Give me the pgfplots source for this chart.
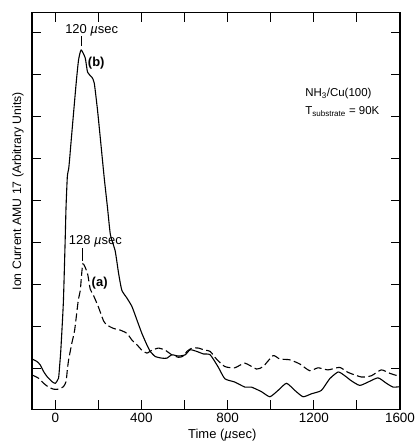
\documentclass[border=0pt]{standalone}
\usepackage{pgfplots}
\pgfplotsset{compat=1.18}
\usepackage{fontspec}
\setmainfont{Liberation Sans}

% time-of-flight traces of AMU 17 (NH3) desorbing from Cu(100)
\pgfplotstableread{
t     s
-108  1.22
-85   1.16
-70   1.08
-54   0.92
-38   0.80
-15   0.68
0     0.64
15    0.76
20    1.04
25    1.37
31    1.91
38    2.63
46    4.06
50    4.85
56    5.57
62    5.75
66    5.95
74    6.44
97    7.80
108   8.35
120   8.59
139   8.40
150   8.06
170   7.94
181   7.80
196   7.16
210   6.44
228   5.50
242   4.85
256   4.18
278   3.80
294   3.26
309   2.86
333   2.67
356   2.47
379   2.15
402   1.83
425   1.56
441   1.40
464   1.28
495   1.24
518   1.24
541   1.32
572   1.29
603   1.32
626   1.44
657   1.40
688   1.34
719   1.32
756   1.03
787   0.75
833   0.67
880   0.55
910   0.55
957   0.44
996   0.32
1034  0.47
1073  0.64
1112  0.47
1150  0.32
1189  0.39
1235  0.47
1274  0.75
1313  0.91
1344  0.82
1374  0.70
1413  0.59
1452  0.67
1498  0.77
1537  0.64
1568  0.55
1600  0.56
}\traceb

\pgfplotstableread{
t     s
-108  0.84
-77   0.76
-54   0.64
-31   0.55
-8    0.50
15    0.50
38    0.56
50    0.68
56    0.96
62    1.20
77    1.60
90    1.91
107   2.63
116   2.85
128   3.49
150   3.25
162   2.89
178   2.73
201   2.45
224   2.13
240   2.03
270   1.95
301   1.91
333   1.83
356   1.67
379   1.56
402   1.43
425   1.36
449   1.43
479   1.48
510   1.43
541   1.32
572   1.26
595   1.29
611   1.40
634   1.48
665   1.48
688   1.44
719   1.40
748   1.22
787   1.04
833   1.01
880   1.12
934   0.98
965   1.04
1011  1.30
1042  1.22
1089  1.20
1135  1.10
1181  0.94
1220  1.01
1266  0.96
1320  1.02
1359  0.90
1421  0.79
1467  0.82
1513  0.96
1552  0.88
1600  0.80
}\tracea

\begin{document}
\begin{tikzpicture}
\begin{axis}[
  scale only axis,
  width=368bp, height=396.6bp,
  xmin=-108, xmax=1600,
  ymin=0.02, ymax=9.48,
  xtick={0,200,...,1600},
  xticklabels={0,,400,,800,,1200,,1600},
  ytick={1,2,...,9},
  yticklabels={},
  tick align=inside,
  major tick length=9bp,
  every tick/.style={black, line width=1bp},
  axis line style={line width=1.2bp},
  /pgf/number format/assume math mode=true,
  tick label style={font=\fontsize{13.5}{16}\selectfont},
  xlabel={Time ({\itshape µ}sec)},
  xlabel style={font=\fontsize{13}{16}\selectfont, at={(axis description cs:0.517,0)}, anchor=center, yshift=-25.7bp},
  ylabel={Ion Current AMU 17 (Arbitrary Units)},
  ylabel style={font=\fontsize{12.3}{15}\selectfont, at={(axis description cs:-0.038,0.55)}, anchor=center},
]
\addplot[black, line width=1.1bp, smooth, tension=0.35] table[x=t, y=s] {\traceb};
\addplot[black, line width=1.1bp, smooth, tension=0.35, dash pattern=on 8bp off 3.5bp] table[x=t, y=s] {\tracea};

% peak annotations
\draw[black, line width=0.8bp] (axis cs:120,8.68) -- (axis cs:120,8.92);
\node[font=\fontsize{13}{15}\selectfont] at (axis cs:169,9.06) {120 {\itshape µ}sec};
\node[font=\fontsize{13}{15}\selectfont\bfseries] at (axis cs:190,8.28) {(b)};
\draw[black, line width=0.8bp] (axis cs:128,3.56) -- (axis cs:128,3.86);
\node[font=\fontsize{13}{15}\selectfont] at (axis cs:186,4.03) {128 {\itshape µ}sec};
\node[font=\fontsize{13}{15}\selectfont\bfseries] at (axis cs:206,3.03) {(a)};

\node[anchor=west, font=\fontsize{11.5}{14}\selectfont, inner sep=0pt] at (axis cs:1160,7.54) {NH\textsubscript{3}/Cu(100)};
\node[anchor=west, font=\fontsize{11.5}{14}\selectfont, inner sep=0pt] at (axis cs:1160,7.12) {T\textsubscript{substrate} = 90K};
\end{axis}
\pgfresetboundingbox
\useasboundingbox (current axis.south west) ++(-32bp,-38.7bp) rectangle ++(416bp,448bp);
\end{tikzpicture}
\end{document}
